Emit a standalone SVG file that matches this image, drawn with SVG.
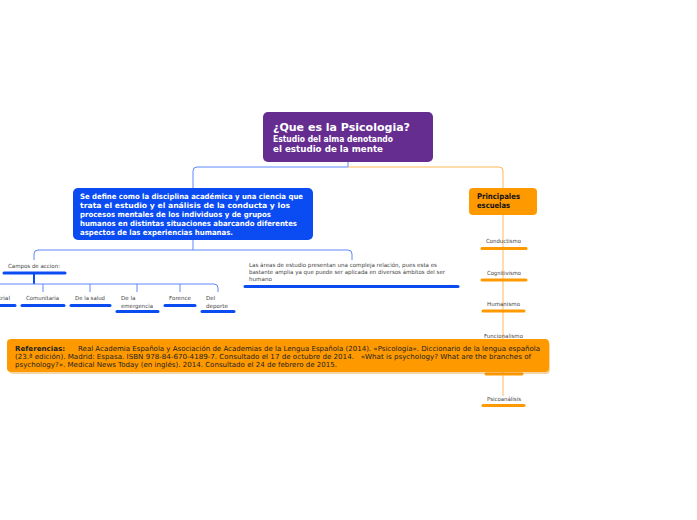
<svg xmlns="http://www.w3.org/2000/svg" width="697" height="520" viewBox="0 0 697 520">
<style>
text{font-family:"DejaVu Sans","Verdana",sans-serif}
.w{fill:#fff;font-weight:bold}
.s{fill:#444;font-size:5.6px}
.bl{stroke:#5f86ff;stroke-width:1;fill:none}
.ol{stroke:#ffb955;stroke-width:1;fill:none}
.ub{stroke:#0a4cf2;stroke-width:3;stroke-linecap:round}
.uo{stroke:#ff9900;stroke-width:3;stroke-linecap:round}
</style>
<rect width="697" height="520" fill="#fff"/>
<g id="connectors">
<path class="bl" d="M348,162 V167 H197 Q193,167 193,171 V188"/>
<path class="ol" d="M348,167 H499 Q503,167 503,171 V188"/>
<path class="bl" d="M193,240 V250"/>
<path class="bl" d="M34,260 V254 Q34,250 38,250 H348 Q352,250 352,254 V260"/>
<path d="M34,274 V284" stroke="#0a4cf2" stroke-width="2"/>
<path class="bl" d="M0,284 H214 Q218,284 218,288 V292 M43,284 V292 M90,284 V292 M137,284 V292 M180,284 V292"/>
<path class="ol" d="M503,214 V396"/>
</g>
<g id="root">
<rect x="263" y="112" width="170" height="50" rx="5" fill="#662d91"/>
<text class="w" x="273" y="131" font-size="11" textLength="137" lengthAdjust="spacingAndGlyphs">¿Que es la Psicologia?</text>
<text class="w" x="273" y="142" font-size="8.5" textLength="120" lengthAdjust="spacingAndGlyphs">Estudio del alma denotando</text>
<text class="w" x="273" y="152" font-size="8.5" textLength="110" lengthAdjust="spacingAndGlyphs">el estudio de la mente</text>
</g>
<g id="definicion">
<rect x="73" y="188" width="240" height="52" rx="5" fill="#0a4cf2"/>
<text class="w" font-size="7.4">
<tspan x="80" y="199" textLength="223" lengthAdjust="spacingAndGlyphs">Se define como la disciplina académica y una ciencia que</tspan>
<tspan x="80" y="208" textLength="210" lengthAdjust="spacingAndGlyphs">trata el estudio y el análisis de la conducta y los</tspan>
<tspan x="80" y="217" textLength="191" lengthAdjust="spacingAndGlyphs">procesos mentales de los individuos y de grupos</tspan>
<tspan x="80" y="226" textLength="217" lengthAdjust="spacingAndGlyphs">humanos en distintas situaciones abarcando diferentes</tspan>
<tspan x="80" y="235" textLength="153" lengthAdjust="spacingAndGlyphs">aspectos de las experiencias humanas.</tspan>
</text>
</g>
<g id="escuelas">
<rect x="469" y="188" width="68" height="27" rx="4" fill="#ff9900"/>
<text font-size="7.8" font-weight="bold" fill="#111"><tspan x="477" y="199" textLength="43" lengthAdjust="spacingAndGlyphs">Principales</tspan><tspan x="477" y="208" textLength="33" lengthAdjust="spacingAndGlyphs">escuelas</tspan></text>
</g>
<g id="campos">
<text class="s" x="8" y="267.5" textLength="52" lengthAdjust="spacingAndGlyphs">Campos de accion:</text>
<line class="ub" x1="4" y1="273" x2="65" y2="273"/>
</g>
<g id="industrial">
<text class="s" x="-17" y="300" textLength="27" lengthAdjust="spacingAndGlyphs">Industrial</text>
<line class="ub" x1="-20" y1="305.5" x2="15" y2="305.5"/>
</g>
<g id="comunitaria">
<text class="s" x="26" y="300" textLength="33" lengthAdjust="spacingAndGlyphs">Comunitaria</text>
<line class="ub" x1="22" y1="305.5" x2="64" y2="305.5"/>
</g>
<g id="salud">
<text class="s" x="75" y="300" textLength="30" lengthAdjust="spacingAndGlyphs">De la salud</text>
<line class="ub" x1="71" y1="305.5" x2="110" y2="305.5"/>
</g>
<g id="emergencia">
<text class="s"><tspan x="121" y="300">De la</tspan><tspan x="121" y="307.5" textLength="32" lengthAdjust="spacingAndGlyphs">emergencia</tspan></text>
<line class="ub" x1="117" y1="311.5" x2="158" y2="311.5"/>
</g>
<g id="forence">
<text class="s" x="169" y="300" textLength="22" lengthAdjust="spacingAndGlyphs">Forence</text>
<line class="ub" x1="165" y1="305.5" x2="195" y2="305.5"/>
</g>
<g id="deporte">
<text class="s"><tspan x="206" y="300">Del</tspan><tspan x="206" y="307.5" textLength="22" lengthAdjust="spacingAndGlyphs">deporte</tspan></text>
<line class="ub" x1="202" y1="311.5" x2="234" y2="311.5"/>
</g>
<g id="areas">
<text class="s"><tspan x="249" y="267" textLength="188" lengthAdjust="spacingAndGlyphs">Las áreas de estudio presentan una compleja relación, pues esta es</tspan><tspan x="249" y="274" textLength="196" lengthAdjust="spacingAndGlyphs">bastante amplia ya que puede ser aplicada en diversos ámbitos del ser</tspan><tspan x="249" y="281" textLength="23" lengthAdjust="spacingAndGlyphs">humano</tspan></text>
<line class="ub" x1="245" y1="286.5" x2="458" y2="286.5"/>
</g>
<g id="conductismo">
<text class="s" x="486" y="242.5" textLength="35" lengthAdjust="spacingAndGlyphs">Conductismo</text>
<line class="uo" x1="482" y1="248.5" x2="526" y2="248.5"/>
</g>
<g id="cognitivismo">
<text class="s" x="487" y="274.5" textLength="34" lengthAdjust="spacingAndGlyphs">Cognitivismo</text>
<line class="uo" x1="482" y1="280" x2="526" y2="280"/>
</g>
<g id="humanismo">
<text class="s" x="487" y="305.5" textLength="33" lengthAdjust="spacingAndGlyphs">Humanismo</text>
<line class="uo" x1="483" y1="311" x2="524" y2="311"/>
</g>
<g id="funcionalismo">
<text class="s" x="484" y="337.5" textLength="39" lengthAdjust="spacingAndGlyphs">Funcionalismo</text>
<line class="uo" x1="486" y1="374" x2="522" y2="374"/>
</g>
<g id="psicoanalisis">
<text class="s" x="487" y="400.5" textLength="34" lengthAdjust="spacingAndGlyphs">Psicoanálisis</text>
<line class="uo" x1="483" y1="405.5" x2="524" y2="405.5"/>
</g>
<g id="referencias">
<rect x="8" y="340" width="541" height="33" rx="4" fill="#e08a00" opacity="0.35" transform="translate(1,1)"/>
<rect x="7" y="339" width="542" height="33" rx="4" fill="#ff9900"/>
<text font-size="7" fill="#222">
<tspan x="15" y="350.5" font-weight="bold" textLength="50" lengthAdjust="spacingAndGlyphs">Referencias:</tspan>
<tspan x="78" y="350.5" textLength="462" lengthAdjust="spacingAndGlyphs">Real Academia Española y Asociación de Academias de la Lengua Española (2014). «Psicología». Diccionario de la lengua española</tspan>
<tspan x="15" y="358.5" textLength="516" lengthAdjust="spacingAndGlyphs">(23.ª edición). Madrid: Espasa. ISBN 978-84-670-4189-7. Consultado el 17 de octubre de 2014. &#160; «What is psychology? What are the branches of</tspan>
<tspan x="15" y="366.5" textLength="322" lengthAdjust="spacingAndGlyphs">psychology?». Medical News Today (en inglés). 2014. Consultado el 24 de febrero de 2015.</tspan>
</text>
</g>
</svg>
